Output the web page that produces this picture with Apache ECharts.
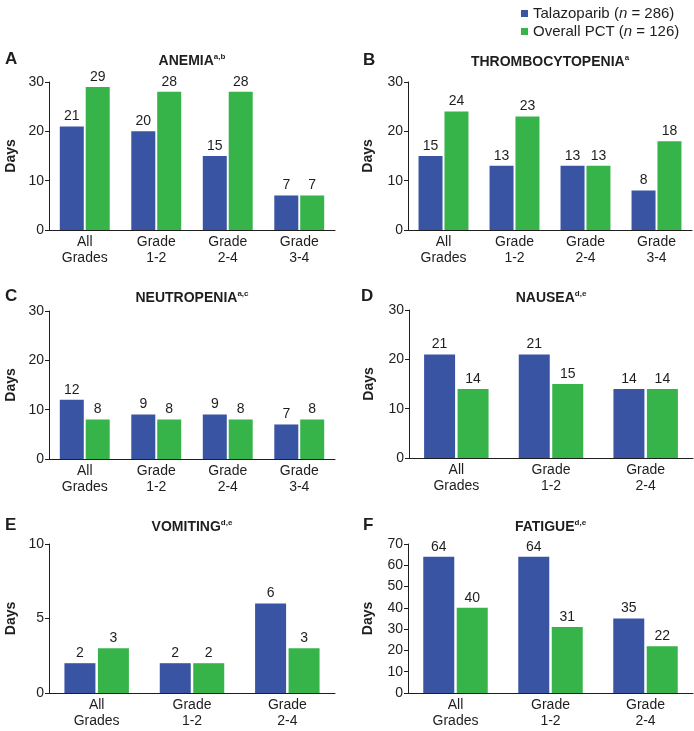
<!DOCTYPE html>
<html>
<head>
<meta charset="utf-8">
<script src="https://cdn.jsdelivr.net/npm/echarts@6/dist/echarts.min.js"></script>
<style>
  html, body { margin: 0; padding: 0; background: #fff; }
  #chart { width: 694px; height: 731px; }
</style>
</head>
<body>
<div id="chart"></div>
<script>
// categories
var cats4 = ["All\nGrades", "Grade\n1-2", "Grade\n2-4", "Grade\n3-4"];
var cats3 = ["All\nGrades", "Grade\n1-2", "Grade\n2-4"];

// days, talazoparib / overall PCT
var anemiaTala = [21, 20, 15, 7];
var anemiaPct = [29, 28, 28, 7];
var thromboTala = [15, 13, 13, 8];
var thromboPct = [24, 23, 13, 18];
var neutroTala = [12, 9, 9, 7];
var neutroPct = [8, 8, 8, 8];
var nauseaTala = [21, 21, 14];
var nauseaPct = [14, 15, 14];
var vomitTala = [2, 2, 6];
var vomitPct = [3, 2, 3];
var fatigueTala = [64, 64, 35];
var fatiguePct = [40, 31, 22];

var panelLetters = ["A", "B", "C", "D", "E", "F"];
var panelTitles = ["ANEMIA", "THROMBOCYTOPENIA", "NEUTROPENIA", "NAUSEA", "VOMITING", "FATIGUE"];
var panelNotes = ["a,b", "a", "a,c", "d,e", "d,e", "d,e"];
var axisMax = [30, 30, 30, 30, 10, 70];
var axisStep = [10, 10, 10, 10, 5, 10];

var seriesNames = ["Talazoparib", "Overall PCT"];
var seriesN = [286, 126];

var panelCats = [cats4, cats4, cats4, cats3, cats3, cats3];
var panelTala = [anemiaTala, thromboTala, neutroTala, nauseaTala, vomitTala, fatigueTala];
var panelPct = [anemiaPct, thromboPct, neutroPct, nauseaPct, vomitPct, fatiguePct];

// layout
var grids = [
  { left: 49, top: 82, width: 286, height: 148 },
  { left: 408, top: 82, width: 284, height: 148 },
  { left: 49, top: 311, width: 286, height: 148 },
  { left: 409, top: 310, width: 284, height: 148 },
  { left: 49, top: 544, width: 286, height: 149 },
  { left: 408, top: 544, width: 285, height: 149 },
];
var titleY = [61, 62, 298, 298, 527, 527];
var letterX = [5, 363, 5, 361, 5, 363];

var colorList = ["#3a54a4", "#36b44a"];
var font = "'Liberation Sans', Arial, Helvetica, sans-serif";
var ink = "#1e1e1e";

var titles = [];
var xAxes = [];
var yAxes = [];
var series = [];

for (var i = 0; i < 6; i++) {
  var g = grids[i];
  titles.push({
    text: panelLetters[i],
    left: letterX[i],
    top: titleY[i] - 10,
    padding: 0,
    textStyle: { fontFamily: font, fontSize: 17, fontWeight: "bold", color: ink },
  });
  titles.push({
    text: "{t|" + panelTitles[i] + "}{s|" + panelNotes[i] + "}",
    left: g.left + g.width / 2,
    textAlign: "center",
    top: titleY[i] - 8,
    padding: 0,
    textStyle: {
      fontFamily: font,
      rich: {
        t: { fontFamily: font, fontSize: 14, fontWeight: "bold", color: ink, lineHeight: 16 },
        s: { fontFamily: font, fontSize: 8, color: ink, lineHeight: 16, verticalAlign: "top" },
      },
    },
  });

  xAxes.push({
    gridIndex: i,
    type: "category",
    data: panelCats[i],
    axisLine: { lineStyle: { color: ink, width: 1 } },
    axisTick: { show: false },
    axisLabel: { interval: 0, fontFamily: font, fontSize: 14, color: ink, lineHeight: 16, margin: 4 },
  });
  yAxes.push({
    gridIndex: i,
    type: "value",
    min: 0,
    max: axisMax[i],
    interval: axisStep[i],
    name: "Days",
    nameLocation: "middle",
    nameGap: i % 2 == 0 ? 31 : 33,
    nameTextStyle: { fontFamily: font, fontSize: 14, fontWeight: "bold", color: ink },
    axisLine: { show: true, lineStyle: { color: ink, width: 1 } },
    axisTick: { show: true, length: 4, lineStyle: { color: ink } },
    axisLabel: { fontFamily: font, fontSize: 14, color: ink, margin: 5 },
    splitLine: { show: false },
  });

  var bw = panelCats[i].length == 4 ? 24 : 31;
  var vals = [panelTala[i], panelPct[i]];
  for (var k = 0; k < 2; k++) {
    series.push({
      name: seriesNames[k],
      type: "bar",
      xAxisIndex: i,
      yAxisIndex: i,
      barWidth: bw,
      barGap: "8%",
      data: vals[k],
      itemStyle: { color: colorList[k] },
      label: {
        show: true,
        position: "top",
        distance: 3,
        fontFamily: font,
        fontSize: 14,
        color: ink,
      },
    });
  }
}

var chart = echarts.init(document.getElementById("chart"));
chart.setOption({
  animation: false,
  color: colorList,
  title: titles,
  legend: {
    data: seriesNames,
    orient: "vertical",
    left: 521,
    top: 6,
    padding: 0,
    itemWidth: 7,
    itemHeight: 7,
    itemGap: 3,
    icon: "rect",
    formatter: function (name) {
      var n = seriesN[seriesNames.indexOf(name)];
      return name + " ({i|n} = " + n + ")";
    },
    textStyle: {
      fontFamily: font,
      fontSize: 15,
      lineHeight: 15,
      color: ink,
      rich: { i: { fontFamily: font, fontSize: 15, fontStyle: "italic", color: ink } },
    },
  },
  grid: grids,
  xAxis: xAxes,
  yAxis: yAxes,
  series: series,
});
</script>
</body>
</html>
